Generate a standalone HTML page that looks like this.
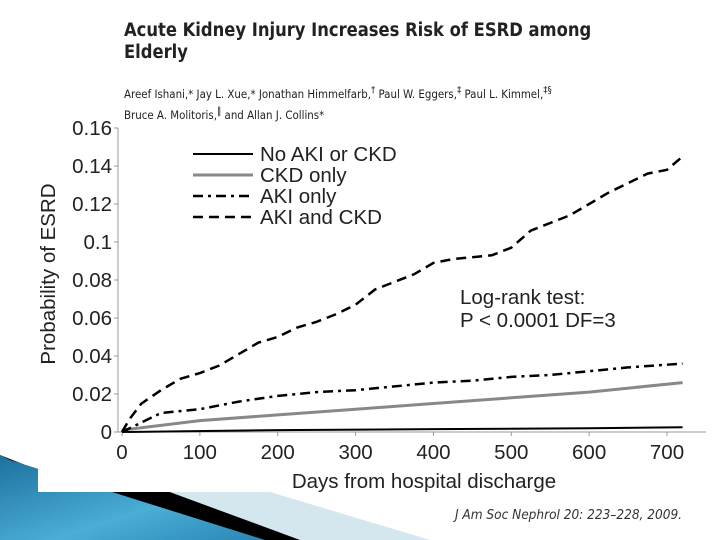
<!DOCTYPE html>
<html><head><meta charset="utf-8"><style>
body{margin:0;width:720px;height:540px;overflow:hidden;background:#fff;font-family:"Liberation Sans",sans-serif;position:relative}
.t{position:absolute;left:124px;color:#222;font-family:"DejaVu Sans Condensed","Liberation Sans",sans-serif}
</style></head><body>
<svg width="720" height="540" style="position:absolute;left:0;top:0">
<defs><linearGradient id="bg" x1="0" y1="0" x2="1" y2="1"><stop offset="0" stop-color="#1d6f9c"/><stop offset="0.6" stop-color="#4aaed6"/><stop offset="1" stop-color="#2a86b5"/></linearGradient></defs>
<polygon points="0,455 0,540 430,540 270,492 38,492" fill="#d4e6ee"/>
<polygon points="0,455 0,540 300,540 110,470 38,470" fill="#000"/>
<polygon points="0,455 0,540 265,540 10,460" fill="url(#bg)"/>
<rect x="38" y="120" width="682" height="372" fill="#fff"/>
</svg>
<div class="t" style="top:20px;font-size:18.2px;font-weight:bold;line-height:22px">Acute Kidney Injury Increases Risk of ESRD among<br>Elderly</div>
<div class="t" style="top:82px;font-size:11.4px;line-height:17px">Areef Ishani,* Jay L. Xue,* Jonathan Himmelfarb,<sup>†</sup> Paul W. Eggers,<sup>‡</sup> Paul L. Kimmel,<sup>‡§</sup><br>Bruce A. Molitoris,<sup>‖</sup> and Allan J. Collins*</div>
<div style="position:absolute;left:455px;top:507px;font-size:13.5px;font-style:italic;color:#333;font-family:'DejaVu Sans Condensed',sans-serif">J Am Soc Nephrol 20: 223–228, 2009.</div>
<svg id="chart" width="720" height="540" style="position:absolute;left:0;top:0;font-family:'Liberation Sans',sans-serif"></svg>
<script>
const yTicks=[0,0.02,0.04,0.06,0.08,0.1,0.12,0.14,0.16];
const yTickLabels=["0","0.02","0.04","0.06","0.08","0.1","0.12","0.14","0.16"];
const xTicks=[0,100,200,300,400,500,600,700];
const seriesNames=["No AKI or CKD","CKD only","AKI only","AKI and CKD"];
const daysNone=[0,200,400,600,720];
const valsNone=[0,0.001,0.0015,0.002,0.0025];
const daysCkd=[0,100,200,300,400,500,600,720];
const valsCkd=[0.001,0.006,0.009,0.012,0.015,0.018,0.021,0.026];
const daysAki=[0,25,50,100,150,200,250,300,350,400,450,500,550,600,650,720];
const valsAki=[0,0.005,0.01,0.012,0.016,0.019,0.021,0.022,0.024,0.026,0.027,0.029,0.03,0.032,0.034,0.036];
const daysBoth=[0,10,25,50,75,100,125,150,175,200,225,250,275,300,325,350,375,400,425,450,475,500,525,550,575,600,625,650,675,700,720];
const valsBoth=[0,0.007,0.015,0.022,0.028,0.031,0.035,0.041,0.047,0.05,0.055,0.058,0.062,0.067,0.075,0.079,0.083,0.089,0.091,0.092,0.093,0.097,0.106,0.11,0.114,0.12,0.126,0.131,0.136,0.138,0.145];
const svg=document.getElementById('chart');const NS='http://www.w3.org/2000/svg';
const X=d=>122+d*(545/700), Y=v=>432-v*1900;
const FS=20.5;
function mk(t,a,p){const e=document.createElementNS(NS,t);for(const k in a)e.setAttribute(k,a[k]);(p||svg).appendChild(e);return e;}
let e=mk('line',{x1:118,y1:128,x2:118,y2:432,stroke:'#999'});


e=mk('line',{x1:118,y1:432,x2:706,y2:432,stroke:'#999'});


yTicks.forEach((v,i)=>{mk('line',{x1:114,x2:118,y1:Y(v),y2:Y(v),stroke:'#999'});
const t=mk('text',{x:112,y:Y(v)+7,'text-anchor':'end','font-size':FS,fill:'#222'});t.textContent=yTickLabels[i];

});
xTicks.forEach(d=>{mk('line',{x1:X(d),x2:X(d),y1:432,y2:436,stroke:'#999'});
const t=mk('text',{x:X(d),y:459,'text-anchor':'middle','font-size':FS,fill:'#222'});t.textContent=d;

});
e=mk('text',{x:424,y:488,'text-anchor':'middle','font-size':FS,fill:'#222'});e.textContent='Days from hospital discharge';


e=mk('text',{x:0,y:0,'text-anchor':'middle','font-size':FS,fill:'#222',transform:'translate(55,274) rotate(-90)'});e.textContent='Probability of ESRD';


const styles=[{stroke:'#000',w:2,dash:''},{stroke:'#888',w:3,dash:''},{stroke:'#000',w:2.5,dash:'10,5,3,5'},{stroke:'#000',w:2.5,dash:'10,6'}];
const data=[[daysNone,valsNone],[daysCkd,valsCkd],[daysAki,valsAki],[daysBoth,valsBoth]];
const names=['series-no-aki-or-ckd','series-ckd-only','series-aki-only','series-aki-and-ckd'];
data.forEach((s,i)=>{const st=styles[i];
const p=mk('polyline',{points:s[0].map((d,j)=>X(d)+','+Y(s[1][j])).join(' '),fill:'none',stroke:st.stroke,'stroke-width':st.w,'stroke-dasharray':st.dash});


const ly=154+i*21;
const g=mk('g',{});


mk('line',{x1:193,x2:253,y1:ly,y2:ly,stroke:st.stroke,'stroke-width':st.w,'stroke-dasharray':st.dash},g);
const t=mk('text',{x:260,y:ly+7,'font-size':FS,fill:'#222'},g);t.textContent=seriesNames[i];});
e=mk('text',{x:460,y:304,'font-size':FS,fill:'#222'});e.textContent='Log-rank test:';


e=mk('text',{x:460,y:327,'font-size':FS,fill:'#222'});e.textContent='P < 0.0001 DF=3';


</script>
</body></html>
